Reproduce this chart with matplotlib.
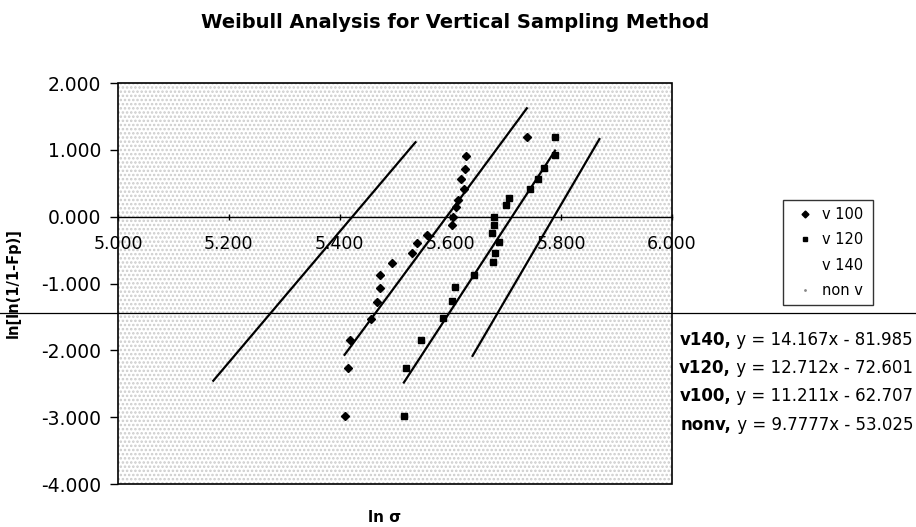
import numpy as np
import matplotlib
matplotlib.use("Agg")
from matplotlib import pyplot as plt
from matplotlib.lines import Line2D
from matplotlib.patches import Rectangle

plt.rcParams['font.family'] = ['DejaVu Sans']
plt.rcParams['hatch.linewidth'] = 1.2

# data
v100_x = [5.409, 5.416, 5.418, 5.457, 5.468, 5.473, 5.473, 5.495, 5.531, 5.540,
          5.558, 5.602, 5.605, 5.610, 5.614, 5.624, 5.620, 5.627, 5.629, 5.738]
v100_y = [-2.98, -2.27, -1.85, -1.53, -1.28, -1.06, -0.88, -0.70, -0.55, -0.40,
          -0.27, -0.13, 0.00, 0.14, 0.25, 0.41, 0.56, 0.71, 0.91, 1.19]

v120_x = [5.516, 5.520, 5.547, 5.587, 5.602, 5.608, 5.642, 5.676, 5.680, 5.688,
          5.675, 5.678, 5.679, 5.700, 5.705, 5.744, 5.758, 5.769, 5.789, 5.789]
v120_y = [-2.98, -2.27, -1.85, -1.51, -1.26, -1.05, -0.87, -0.68, -0.54, -0.38,
          -0.24, -0.12, 0.00, 0.18, 0.28, 0.42, 0.57, 0.73, 0.93, 1.19]

# x span of the series with no visible markers
v140_span = [5.640, 5.869]
nonv_span = [5.172, 5.537]

# trendlines: name, slope, intercept
fits = [("v140", 14.167, -81.985),
        ("v120", 12.712, -72.601),
        ("v100", 11.211, -62.707),
        ("nonv", 9.7777, -53.025)]
spans = {"v140": v140_span,
         "v120": [min(v120_x), max(v120_x)],
         "v100": [min(v100_x), max(v100_x)],
         "nonv": nonv_span}

legend_labels = ["v 100", "v 120", "v 140", "non v"]
x_ticks = [5.0, 5.2, 5.4, 5.6, 5.8, 6.0]
y_ticks = [2, 1, 0, -1, -2, -3, -4]

W, H = 916, 527
fig = plt.figure(figsize=(W / 100, H / 100), dpi=100)
ax = fig.add_axes([118 / W, 1 - 484 / H, (672 - 118) / W, (484 - 83) / H])

# stippled background
ax.add_patch(Rectangle((0, 0), 1, 1, transform=ax.transAxes, facecolor='white',
                       edgecolor='#cccccc', hatch='....', lw=0, zorder=0))
ax.add_patch(Rectangle((0, 0), 1, 1, transform=ax.transAxes, fill=False,
                       edgecolor='black', lw=1.2, zorder=5, clip_on=False))

for name, k, b in fits:
    xs = np.array(spans[name])
    ax.plot(xs, k * xs + b, color='black', lw=1.6, zorder=3)

ax.plot(v100_x, v100_y, 'D', color='black', ms=4.5, zorder=4)
ax.plot(v120_x, v120_y, 's', color='black', ms=4.5, zorder=4)

ax.set_xlim(5.0, 6.0)
ax.set_ylim(-4, 2)
ax.set_xticks(x_ticks)
ax.set_yticks(y_ticks)
ax.xaxis.set_major_formatter(matplotlib.ticker.FormatStrFormatter('%.3f'))
ax.yaxis.set_major_formatter(matplotlib.ticker.FormatStrFormatter('%.3f'))

for s in ['top', 'right', 'left']:
    ax.spines[s].set_visible(False)
ax.spines['bottom'].set_position(('data', 0))
ax.spines['bottom'].set_linewidth(1.0)
ax.tick_params(axis='x', direction='inout', length=5, width=1, pad=11, labelsize=12.5)
ax.tick_params(axis='y', direction='out', length=6, width=1, pad=6, labelsize=13.5)

ax.set_xlabel("ln σ", fontsize=11, fontweight='bold', va='center')
ax.xaxis.set_label_coords((385 - 118) / (672 - 118), -(517 - 484) / (484 - 83))
ax.set_ylabel("ln[ln(1/1-Fp)]", fontsize=10.5, fontweight='bold')
ax.yaxis.set_label_coords(-(118 - 21) / (672 - 118), 0.5)

fig.text(455 / W, 1 - 22 / H, "Weibull Analysis for Vertical Sampling Method",
         ha='center', va='center', fontsize=14, fontweight='bold')

# legend
handles = [Line2D([], [], marker='D', color='black', ls='none', ms=3.5),
           Line2D([], [], marker='s', color='black', ls='none', ms=3.5),
           Line2D([], [], ls='none'),
           Line2D([], [], marker='.', color='#888888', ls='none', ms=2)]
fig.legend(handles, legend_labels, loc='upper left',
           bbox_to_anchor=(783 / W, 1 - 303 / H, 90 / W, 103 / H), mode='expand',
           fontsize=10.5, frameon=True, fancybox=False, edgecolor='black',
           handlelength=2.0, handletextpad=0.2, labelspacing=0.7, borderpad=0.5,
           borderaxespad=0)

# trendline equations
rows_y = [340, 368, 396, 425]
for (name, k, b), py in zip(fits, rows_y):
    rest = fig.text(913 / W, 1 - py / H, f" y = {k:g}x - {abs(b):.3f}",
                    ha='right', va='center', fontsize=12)
    ax.annotate(name + ",", xy=(0, 0.5), xycoords=rest, ha='right', va='center',
                fontsize=12, fontweight='bold', annotation_clip=False)

# scan line running across the page
fig.add_artist(Line2D([0, 1], [1 - 313 / H, 1 - 313 / H], transform=fig.transFigure,
                      color='black', lw=0.9))

fig.savefig("out.png", dpi=100)
